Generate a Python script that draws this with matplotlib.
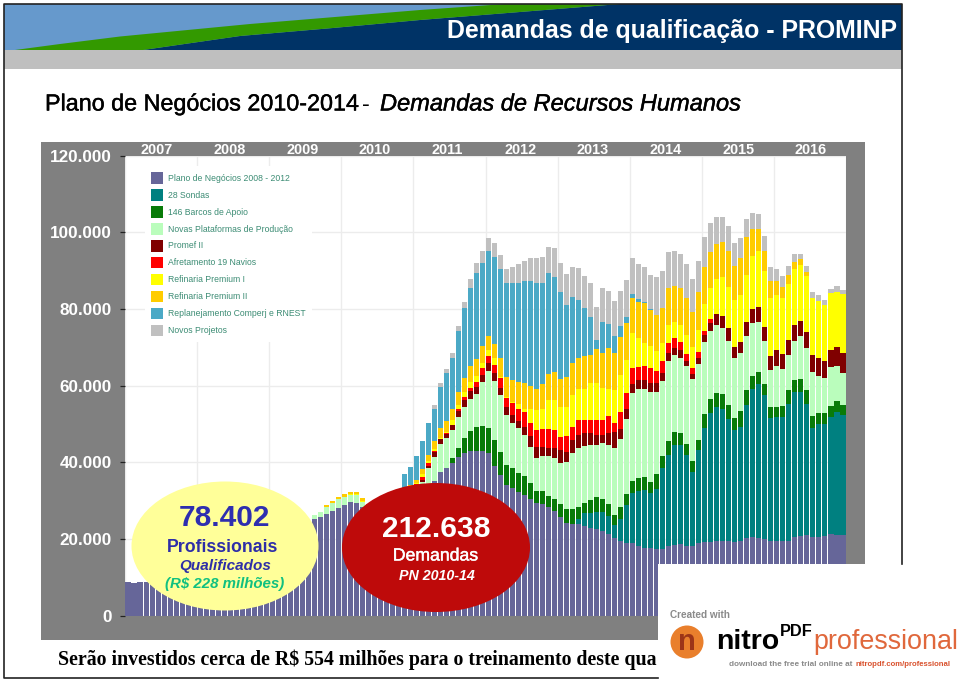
import numpy as np
import matplotlib
matplotlib.use("Agg")
import matplotlib.pyplot as plt
import matplotlib.patheffects as pe
from matplotlib.patches import Ellipse, Rectangle, Circle, Polygon

plt.rcParams['font.family'] = ['Liberation Sans', 'DejaVu Sans']

# valores mensais em milhares, uma linha por ano (2007 a 2016)
plano = [8.8, 8.6, 8.8, 8.8, 8.4, 8.1, 7.8, 7.5, 7.2, 7, 6.8, 6.5,
         6.2, 5.9, 5.6, 5.5, 5.3, 5.2, 5.2, 5.3, 5.5, 6, 7, 8,
         9.5, 11, 13, 15, 17.5, 20, 22.5, 25.1, 25.8, 26.5, 27.3, 28.1,
         28.8, 29.7, 29.3, 28.4, 27.5, 27, 27, 27.5, 28, 28.5, 29, 30,
         31, 32, 33.5, 35.2, 37.5, 38.4, 39.8, 41.4, 42.5, 43, 43, 43,
         42.5, 39, 36.6, 34, 33.2, 32.3, 31.4, 30.3, 29.4, 29.2, 28.2, 27.3,
         25.8, 24.2, 24, 24, 23.3, 22.7, 22.5, 22.1, 21.3, 20.1, 19.5, 19,
         19, 18.2, 17.7, 17.5, 17.3, 17.3, 18.2, 18.4, 18.6, 18.1, 18.1, 18.8,
         19.3, 19.3, 19.4, 19.4, 19.4, 19.3, 19.4, 20.1, 20.4, 20.3, 20, 19.4,
         19.5, 19.5, 19.5, 20.4, 20.7, 21, 20.4, 20.6, 20.7, 21.3, 21, 21]
sondas = [0] * 75 + [1.3, 3.4, 4, 4.6, 5, 4.7, 3.5, 5.6, 9.8,
          12.9, 14.4, 15, 14.4, 15.6, 21.1, 23.7, 26.1, 25.9, 23.8, 19.4, 24.4,
          29.5, 33.4, 34.9, 34.6, 31.8, 29.1, 29.9, 34.8, 38.7, 40, 37.5, 32,
          32.2, 32.4, 35.7, 38, 37.7, 34.3, 28.4, 29.4, 29.3, 30.6, 32.2, 31.3]
barcos = [0] * 54 + [1.3, 2.4, 3.7, 5.1, 6.1, 6.4,
          6.5, 6.9, 6.1, 5.2, 5.4, 4.8, 5, 4.2, 3.1, 3.2, 3, 3,
          3.2, 3.7, 3.7, 3, 2.6, 3.5, 3.7, 3.2, 3, 2.6, 3.1, 2.9,
          3.2, 3.4, 3.5, 3, 4, 3.3, 3.7, 3.5, 3.1, 2.8, 2.8, 2.6,
          3.8, 3.7, 3.8, 3.7, 3.7, 3.2, 4, 3.8, 3.5, 3.1, 2.9, 2.9,
          2.8, 2.8, 3.5, 3, 3.2, 3.4, 3.2, 2.7, 2.7, 2.8, 2.7, 2.6]
plataformas = [0] * 28 + [0.3, 0.4, 0.5, 1.1, 1.3, 1.9, 2, 2.2,
               2, 1.7, 2.1, 1.3, 1, 0.7, 1, 1.5, 2, 2, 2, 1.5,
               2, 2.9, 4.9, 6.2, 7.2, 7.8, 7.3, 8.1, 8.3, 8.3, 8.6, 11.5,
               14.8, 15.3, 14.8, 13.1, 11.7, 11.7, 10.7, 9.5, 8.5, 9.2, 10.4, 10.7,
               10.7, 12.1, 14.6, 15.3, 14.9, 14.3, 13.7, 14.7, 15.5, 17.6, 17.8, 19.5,
               22.9, 23.2, 22.9, 23.5, 21.5, 19.5, 20.9, 20, 19.7, 20.4, 21.3, 19.7,
               18.7, 17.9, 17.7, 17.2, 16.7, 15.5, 15.1, 14.3, 13.6, 13.2, 11.2, 9.8,
               10.6, 9.6, 9.3, 10.2, 11.3, 11, 11.6, 9.9, 9.2, 10, 9.3, 8.3]
promef = [0] * 44 + [0.3, 0.3, 0.6, 0.7,
          0.7, 0.5, 0.6, 1.3, 1.3, 1.2, 1.3, 1.5, 1.7, 2.2, 2, 1.8,
          2, 2, 1.8, 2.2, 2, 2, 2.2, 2.7, 3, 2.4, 2, 2.6,
          3.5, 2.7, 3.5, 3.5, 3.3, 3, 2.6, 2.2, 3, 4, 2.6, 2.6,
          2.3, 2.2, 2.3, 2.3, 2.2, 2, 1.9, 1.7, 2, 1.3, 1.3, 1.8,
          1.9, 1.9, 2.8, 3.2, 3.3, 3, 3, 3.5, 3.8, 3.8, 3.7, 3.7,
          4.2, 3.9, 3.9, 4.2, 4, 4.3, 4.3, 4.7, 4.5, 4.6, 4.8, 5.2]
navios = [0] * 45 + [0.3, 0.4, 0.4,
          0.5, 0.8, 0.7, 0.2, 0.1, 0.1, 0, 0.6, 0.7, 0.8, 1.2, 1.8,
          1.9, 2.2, 2.6, 2.2, 3.2, 3, 3.7, 3.4, 4.4, 4.6, 5, 4.8,
          3.3, 4.1, 3.5, 3.9, 3.5, 3.5, 3.9, 3.8, 4.5, 2.5, 4.4, 4.3,
          4.2, 3.5, 3.8, 3.8, 3.3, 3.3, 2.6, 2.6, 2.1, 1.8, 1.6, 1.4,
          1.1, 1.1] + [0] * 22
premium1 = [0] * 36 + [0.2, 0.2, 0.2, 0.2, 0.1, 0.1, 0.1, 0.1, 0.1, 0.3, 0.4, 0.4,
            0.4, 0.8, 0.7, 0.5, 0.1, 0.5, 1.3, 0.9, 1.5, 1.6, 1.6, 1.3,
            1.6, 1.7, 0.4, 0.2, 0.3, 1.5, 1, 3.9, 5.2, 5.2, 7.6, 7.8,
            7.8, 7.5, 8.2, 8, 8.1, 9.6, 9.7, 8.3, 7, 8.5, 9.7, 8.6,
            9.1, 7.4, 6, 5.9, 5.2, 4.7, 4.9, 4.2, 4.4, 5, 5.6, 5.9,
            7, 8.1, 9.2, 10.1, 10.7, 12.2, 12.2, 12.3, 13.8, 14.8, 14.6, 14.9,
            14.3, 14.5, 14.6, 14.6, 14.5, 14.6, 14.8, 14.8, 14.6, 14.9, 14.5, 15.4]
premium2 = [0] * 33 + [0.3, 0.5, 0.5,
            0.7, 0.7, 0.7, 0.7, 0.5, 0.5, 0.5, 0.6, 0.6, 0.6, 0.8, 1,
            0.8, 1.1, 1.6, 2.2, 2.6, 2.7, 3, 3.5, 3.6, 4.1, 4.4, 4.5,
            3.6, 3.7, 4.8, 5.4, 5.6, 5.6, 6.6, 5.9, 5.5, 6.6, 6.7, 7.2,
            7.4, 8, 8.3, 8.3, 8.7, 7.4, 8.8, 9.1, 10.7, 9.8, 10, 9.7,
            9.3, 9.6, 10.2, 9.3, 9.3, 9.1, 9.6, 9.5, 9.7, 9.5, 9.2, 9.7,
            9.7, 9.5, 9.2, 9.3, 9.6, 9, 9.6, 10, 7, 5.6, 5.3, 4.6,
            3.7, 2.9, 2.3, 1.9, 1.5, 1.1] + [0] * 6
replan = [0] * 45 + [0.8, 3.6, 4.8,
          6.3, 7.5, 8.1, 8.4, 10.7, 12.5, 13.3, 15.8, 18.3, 20.4, 22.4, 21.7,
          22.3, 22.8, 23.3, 24.4, 25.3, 25.8, 26.7, 27.4, 27.6, 26.4, 26.4, 25,
          22.6, 18.8, 17.2, 15.1, 12.5, 9.8, 2.5, 8.1, 6.3, 4.3, 2.8, 1.5,
          1.1, 0.6, 0.4, 0.3] + [0] * 32
novos = [0] * 50 + [0.1, 0.9, 1.1, 1.1, 1.1, 1.3, 1.6, 2.3, 2.6, 3,
         3.2, 3.6, 3.6, 3.6, 4.1, 4.9, 5.2, 5.9, 6.5, 6.7, 6.8, 7.4,
         7.6, 7.9, 7.8, 8.2, 8.2, 8.9, 8.4, 9, 8.7, 9.1, 9.2, 9.6,
         9.3, 9.3, 9.1, 8.9, 9.8, 9.7, 9.3, 9.2, 8.9, 8.9, 8.6, 8.2,
         7.8, 7.5, 7, 6.5, 6.4, 5.8, 5.2, 4.7, 4.1, 3.9, 3.8, 3.5,
         3, 2.9, 2.3, 1.9, 1.5, 1.4, 1.7, 1.4, 1.3, 1.1, 1.4, 1.1]

series_vals = [plano, sondas, barcos, plataformas, promef, navios,
               premium1, premium2, replan, novos]
series_names = ['Plano de Negócios 2008 - 2012', '28 Sondas', '146 Barcos de Apoio',
                'Novas Plataformas de Produção', 'Promef II', 'Afretamento 19 Navios',
                'Refinaria Premium I', 'Refinaria Premium II',
                'Replanejamento Comperj e RNEST', 'Novos Projetos']
series_colors = ['#666699', '#008080', '#087B08', '#BAFDBC', '#800000', '#FF0000',
                 '#FFFF00', '#FFCC00', '#4BA9C6', '#C0C0C0']
years = ['2007', '2008', '2009', '2010', '2011', '2012', '2013', '2014', '2015', '2016']
y_ticks = [0, 20, 40, 60, 80, 100, 120]
y_labels = ['0', '20.000', '40.000', '60.000', '80.000', '100.000', '120.000']

W, H = 959, 681
fig = plt.figure(figsize=(W / 100, H / 100), dpi=100, facecolor='white')


def pixel_axes(z):
    a = fig.add_axes([0, 0, 1, 1], zorder=z)
    a.set_xlim(0, W)
    a.set_ylim(H, 0)
    a.axis('off')
    a.patch.set_visible(False)
    return a


bg = pixel_axes(0)
ov = pixel_axes(2)

# cabecalho do slide
bg.add_patch(Rectangle((4, 4), 898, 46, color='#6699CC', lw=0))
bg.add_patch(Rectangle((4, 50), 898, 19, color='#BFBFBF', lw=0))
bg.add_patch(Polygon([(143, 50), (240, 36), (333, 28), (420, 20), (520, 12), (620, 4),
                      (902, 4), (902, 50)], color='#003366', lw=0))
bg.add_patch(Polygon([(15, 50), (60, 44), (120, 36.5), (250, 24), (420, 10), (505, 4),
                      (620, 4), (520, 12), (420, 20), (333, 28), (240, 36), (143, 50)],
                     color='#339900', lw=0))
bg.text(447, 31, 'Demandas de qualificação - PROMINP', color='white', fontsize=17.9,
        fontweight='bold', va='center', ha='left')

stroke = [pe.withStroke(linewidth=0.3, foreground='black')]
bg.text(45, 104, 'Plano de Negócios 2010-2014', fontsize=16.8, va='center', path_effects=stroke)
bg.text(362, 104, '-', fontsize=16.8, va='center')
bg.text(380, 104, 'Demandas de Recursos Humanos', fontsize=17, style='italic', va='center',
        path_effects=stroke)

# painel cinza atras do grafico
bg.add_patch(Rectangle((41, 142), 824, 498, color='#808080', lw=0))

ax = fig.add_axes([125 / W, 1 - 615.5 / H, 721 / W, 460 / H], zorder=1)
x = np.arange(120) + 0.5
bottom = np.zeros(120)
for vals, name, color in zip(series_vals, series_names, series_colors):
    vals = np.array(vals, dtype=float)
    ax.bar(x, vals, width=0.84, bottom=bottom, color=color, label=name, lw=0, zorder=3)
    bottom += vals
ax.set_xlim(0, 120)
ax.set_ylim(0, 120)
ax.set_xticks(np.arange(0, 121, 12))
ax.set_yticks(y_ticks)
ax.set_yticklabels(y_labels, color='white', fontweight='bold', fontsize=12.3)
ax.tick_params(axis='x', length=0, labelbottom=False)
ax.tick_params(axis='y', length=3.5, width=0.9, color='#222222', pad=6)
ax.grid(color='#ECECEC', lw=1, zorder=0)
for s in ax.spines.values():
    s.set_visible(False)

leg = ax.legend(loc='upper left', bbox_to_anchor=(145, 166), bbox_transform=ov.transData,
                borderaxespad=0, fontsize=6.2, labelcolor='#3C8C74', handlelength=1.4,
                handleheight=1.7, handletextpad=0.58, labelspacing=0.62, borderpad=0.7,
                frameon=True, framealpha=1, facecolor='white', edgecolor='none', fancybox=False)
leg.set_zorder(5)

# anos na faixa superior
for yr, px in zip(years, np.linspace(157, 811, len(years))):
    ov.text(px, 149.5, yr, color='white', fontsize=10.4, fontweight='bold', ha='center', va='center')

# baloes
ov.add_patch(Ellipse((225, 546), 187, 129, color='#FFFF99', lw=0))
ov.text(225, 518, '78.402', color='#2E2EB0', fontsize=21.5, fontweight='bold', ha='center', va='center')
ov.text(222.5, 547, 'Profissionais', color='#2E2EA8', fontsize=12.8, fontweight='bold', ha='center', va='center')
ov.text(225, 566, 'Qualificados', color='#2E2EA8', fontsize=11, fontweight='bold', style='italic',
        ha='center', va='center')
ov.text(225, 584, '(R$ 228 milhões)', color='#10C080', fontsize=10.8, fontweight='bold', style='italic',
        ha='center', va='center')

ov.add_patch(Ellipse((436, 547.5), 188, 129, color='#BE0A0A', lw=0))
ov.text(436, 529, '212.638', color='white', fontsize=21.5, fontweight='bold', ha='center', va='center')
ov.text(435.5, 556, 'Demandas', color='white', fontsize=12.7, ha='center', va='center', path_effects=[
    pe.withStroke(linewidth=0.3, foreground='white')])
ov.text(436.5, 576, 'PN 2010-14', color='white', fontsize=10.3, fontweight='bold', style='italic',
        ha='center', va='center')

# frase de baixo e moldura
ov.text(58, 660, 'Serão investidos cerca de R$ 554 milhões para o treinamento deste qua',
        family=['Liberation Serif', 'DejaVu Serif'], fontsize=14.3, fontweight='bold', va='center')
ov.plot([658, 3.5, 3.5, 902, 902], [678, 678, 4, 4, 564], color='#222222', lw=1.2)

# marca d'agua do nitro
ov.add_patch(Rectangle((658, 564), W - 658, H - 564, color='white', lw=0))
ov.add_patch(Rectangle((903, 0), W - 903, 564, color='white', lw=0))
ov.text(670, 615, 'Created with', color='#8A8A8A', fontsize=7.2, fontweight='bold', va='center')
ov.add_patch(Circle((687, 642), 16.5, color='#E97F2C', lw=0))
ov.text(687, 642, 'n', color='#9C3518', fontsize=21, fontweight='bold', ha='center', va='center')
ov.text(716, 642, 'nitro', color='black', fontsize=20.5, fontweight='bold', va='center')
ov.text(780, 631, 'PDF', color='black', fontsize=11.8, fontweight='bold', va='center')
ov.text(813, 642, 'professional', color='#E0683C', fontsize=19.4, va='center')
ov.text(729, 665, 'download the free trial online at', color='#8A8A8A', fontsize=5.9, fontweight='bold', va='center')
ov.text(856, 665, 'nitropdf.com/professional', color='#D9522E', fontsize=5.6, fontweight='bold', va='center')

fig.savefig('out.png', dpi=100)
